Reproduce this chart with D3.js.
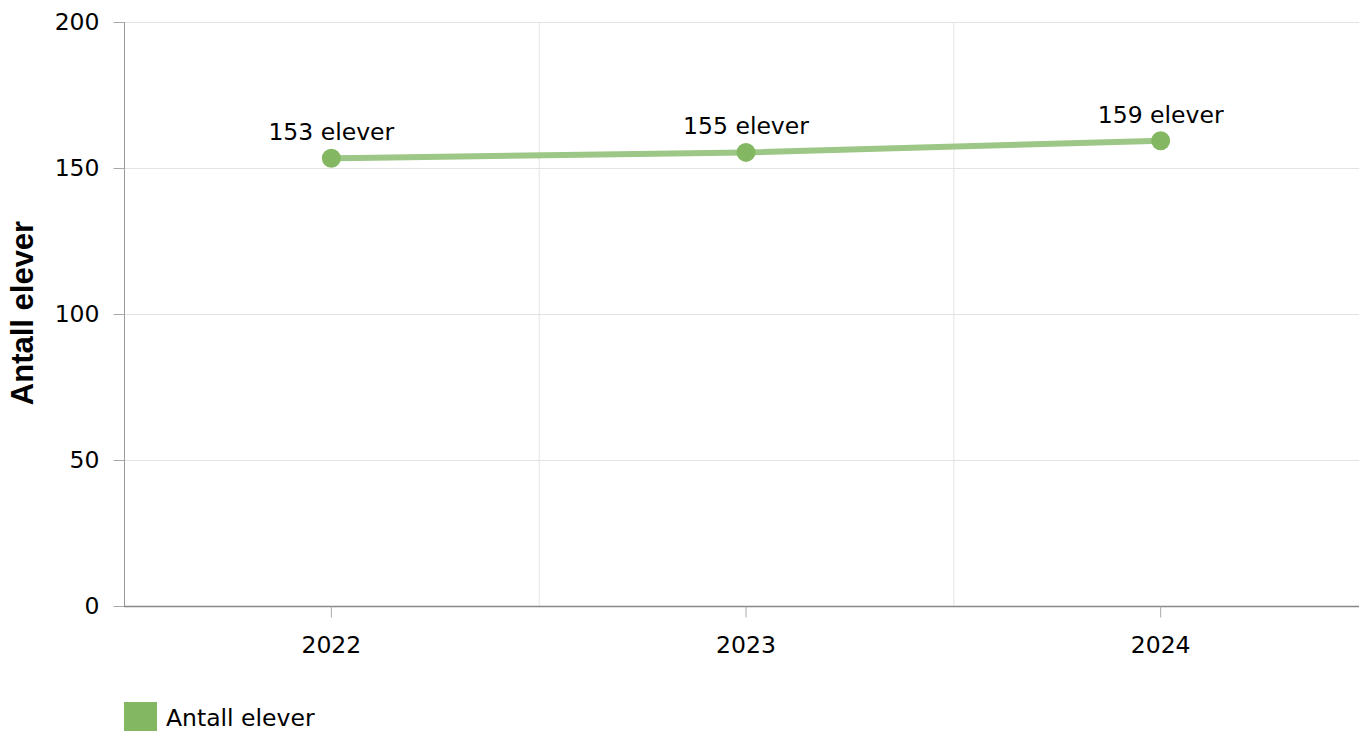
<!DOCTYPE html>
<html><head><meta charset="utf-8">
<script src="https://cdn.jsdelivr.net/npm/d3@7"></script>
<style>body{margin:0;background:#fff}svg{display:block;font-family:"DejaVu Sans",Verdana,sans-serif}</style>
</head><body>
<svg id="c" width="1359" height="731"></svg>
<script>
const categories = ["2022","2023","2024"];
const values = [153,155,159];
const yTicks = [0,50,100,150,200];
const seriesName = "Antall elever";
const yTitle = "Antall elever";
const unit = "elever";

const FS = 23.5;
const svg = d3.select("#c");
const x = d3.scaleBand().domain(categories).range([124,1368]);
const y = d3.scaleLinear().domain([0,200]).range([606,22]);
const xc = d => x(d) + x.bandwidth()/2;

// grid
const g = svg.append("g");
g.selectAll(".hg").data(yTicks).join("line")
 .attr("x1",125).attr("x2",1359).attr("y1",d=>y(d)+0.5).attr("y2",d=>y(d)+0.5)
 .attr("stroke","#e3e3e3").attr("stroke-width",1);
g.selectAll(".vg").data(categories.slice(1)).join("line")
 .attr("x1",d=>x(d)+0.5).attr("x2",d=>x(d)+0.5).attr("y1",22).attr("y2",606)
 .attr("stroke","#e3e3e3");

// y axis
const ya = svg.append("g").attr("transform","translate(124.5,0)")
 .call(d3.axisLeft(y).tickValues(yTicks).tickSize(11).tickPadding(14));
ya.select(".domain").attr("stroke","#999").attr("d","M0,22V606");
ya.selectAll(".tick line").attr("stroke","#aaa");
ya.selectAll("text").attr("font-size",FS).attr("fill","#000").attr("font-family","DejaVu Sans");

// x axis
const xa = svg.append("g").attr("transform","translate(0,606.5)")
 .call(d3.axisBottom(x).tickSize(11).tickPadding(19));
xa.select(".domain").attr("stroke","#888").attr("stroke-width",1.5).attr("d","M124,0H1368");
xa.selectAll(".tick line").attr("stroke","#aaa");
xa.selectAll("text").attr("font-size",FS).attr("fill","#000").attr("font-family","DejaVu Sans");

// y title
svg.append("text").attr("transform","translate(33,313) rotate(-90)")
 .attr("text-anchor","middle").attr("font-size",31).attr("font-weight","bold")
 .attr("font-family","Liberation Sans, Arial, sans-serif").text(yTitle);

// line
const data = categories.map((c,i)=>({c,v:values[i]}));
svg.append("path").datum(data)
 .attr("d", d3.line().x(d=>xc(d.c)).y(d=>y(d.v)-1).curve(d3.curveMonotoneX))
 .attr("fill","none").attr("stroke","#9cc786").attr("stroke-width",6).attr("stroke-linecap","round");
svg.selectAll(".pt").data(data).join("circle")
 .attr("cx",d=>xc(d.c)).attr("cy",d=>y(d.v)-1).attr("r",9.5).attr("fill","#84b761");
svg.selectAll(".lb").data(data).join("text")
 .attr("x",d=>xc(d.c)).attr("y",d=>y(d.v)-19).attr("text-anchor","middle")
 .attr("font-size",FS).attr("fill","#000").text(d=>d.v+" "+unit);

// legend
svg.append("rect").attr("x",124).attr("y",702).attr("width",33).attr("height",29).attr("fill","#84b761");
svg.append("text").attr("x",166).attr("y",726).attr("font-size",FS).text(seriesName);
</script>
</body></html>
